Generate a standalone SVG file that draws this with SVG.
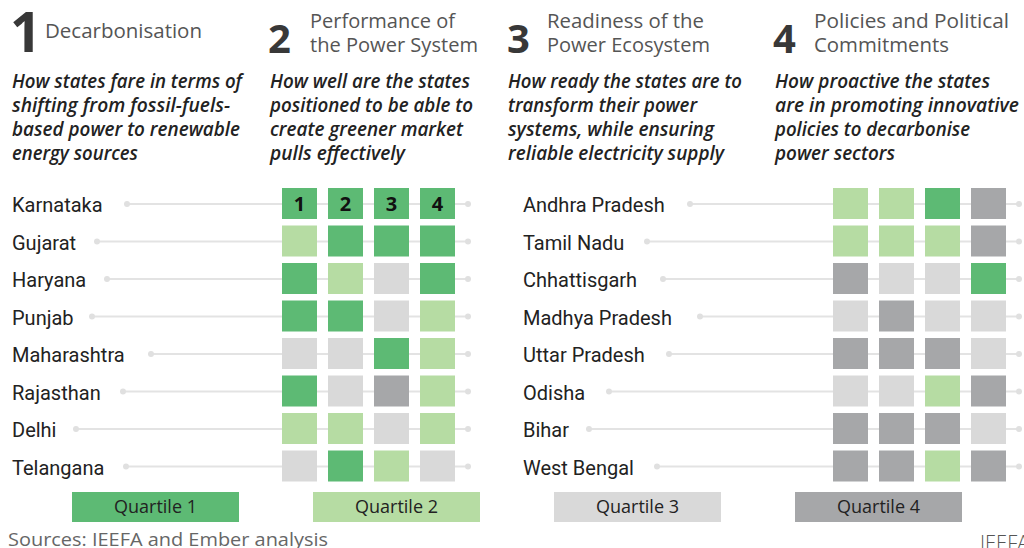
<svg xmlns="http://www.w3.org/2000/svg" width="1024" height="548" viewBox="0 0 1024 548">
<style>
.num{font-family:"Open Sans","Noto Sans",sans-serif;font-weight:700;fill:#383838}
.ttl{font-family:"Open Sans","Noto Sans",sans-serif;font-size:20px;font-weight:500;fill:#555}
.dsc{font-family:"Open Sans","Noto Sans",sans-serif;font-size:19px;font-style:italic;font-weight:600;fill:#222}
.st{font-family:Roboto,"Liberation Sans",sans-serif;font-size:20px;fill:#222}
.ln{stroke:#e3e3e3;stroke-width:2}
.dt{fill:#e0e0e0}
.q1{fill:#5dba74}.q2{fill:#b6dca3}.q3{fill:#d9d9d9}.q4{fill:#a6a7a9}
.kn{font-family:"Open Sans","Noto Sans",sans-serif;font-size:20px;font-weight:700;fill:#111;text-anchor:middle}
.lg{font-family:"Open Sans","Noto Sans",sans-serif;font-size:18px;fill:#222;text-anchor:middle}
.src{font-family:"Open Sans","Noto Sans",sans-serif;font-size:19px;fill:#666}
</style>
<rect width="1024" height="548" fill="#fff"/>
<g id="header1">
<text class="num" x="10" y="52" font-size="55">1</text>
<text class="ttl" x="45" y="38" textLength="157" lengthAdjust="spacingAndGlyphs">Decarbonisation</text>
<text class="dsc" x="12" y="88" textLength="230" lengthAdjust="spacingAndGlyphs">How states fare in terms of</text>
<text class="dsc" x="12" y="112" textLength="218" lengthAdjust="spacingAndGlyphs">shifting from fossil-fuels-</text>
<text class="dsc" x="12" y="136" textLength="228" lengthAdjust="spacingAndGlyphs">based power to renewable</text>
<text class="dsc" x="12" y="160" textLength="126" lengthAdjust="spacingAndGlyphs">energy sources</text>
</g>
<g id="header2">
<text class="num" x="268" y="53" font-size="40">2</text>
<text class="ttl" x="310" y="28" textLength="145" lengthAdjust="spacingAndGlyphs">Performance of</text>
<text class="ttl" x="310" y="52" textLength="168" lengthAdjust="spacingAndGlyphs">the Power System</text>
<text class="dsc" x="270" y="88" textLength="200" lengthAdjust="spacingAndGlyphs">How well are the states</text>
<text class="dsc" x="270" y="112" textLength="203" lengthAdjust="spacingAndGlyphs">positioned to be able to</text>
<text class="dsc" x="270" y="136" textLength="193" lengthAdjust="spacingAndGlyphs">create greener market</text>
<text class="dsc" x="270" y="160" textLength="135" lengthAdjust="spacingAndGlyphs">pulls effectively</text>
</g>
<g id="header3">
<text class="num" x="507" y="53" font-size="40">3</text>
<text class="ttl" x="547" y="28" textLength="157" lengthAdjust="spacingAndGlyphs">Readiness of the</text>
<text class="ttl" x="547" y="52" textLength="163" lengthAdjust="spacingAndGlyphs">Power Ecosystem</text>
<text class="dsc" x="508" y="88" textLength="234" lengthAdjust="spacingAndGlyphs">How ready the states are to</text>
<text class="dsc" x="508" y="112" textLength="189" lengthAdjust="spacingAndGlyphs">transform their power</text>
<text class="dsc" x="508" y="136" textLength="206" lengthAdjust="spacingAndGlyphs">systems, while ensuring</text>
<text class="dsc" x="508" y="160" textLength="216" lengthAdjust="spacingAndGlyphs">reliable electricity supply</text>
</g>
<g id="header4">
<text class="num" x="773" y="53" font-size="40">4</text>
<text class="ttl" x="814" y="28" textLength="195" lengthAdjust="spacingAndGlyphs">Policies and Political</text>
<text class="ttl" x="814" y="52" textLength="135" lengthAdjust="spacingAndGlyphs">Commitments</text>
<text class="dsc" x="775" y="88" textLength="215" lengthAdjust="spacingAndGlyphs">How proactive the states</text>
<text class="dsc" x="775" y="112" textLength="244" lengthAdjust="spacingAndGlyphs">are in promoting innovative</text>
<text class="dsc" x="775" y="136" textLength="195" lengthAdjust="spacingAndGlyphs">policies to decarbonise</text>
<text class="dsc" x="775" y="160" textLength="120" lengthAdjust="spacingAndGlyphs">power sectors</text>
</g>
<g id="connectors">
<line class="ln" x1="127" y1="204" x2="468" y2="204"/><circle class="dt" cx="127" cy="204" r="3"/><circle class="dt" cx="468" cy="204" r="3"/>
<line class="ln" x1="97" y1="241.5" x2="468" y2="241.5"/><circle class="dt" cx="97" cy="241.5" r="3"/><circle class="dt" cx="468" cy="241.5" r="3"/>
<line class="ln" x1="107" y1="279" x2="468" y2="279"/><circle class="dt" cx="107" cy="279" r="3"/><circle class="dt" cx="468" cy="279" r="3"/>
<line class="ln" x1="92" y1="316.5" x2="468" y2="316.5"/><circle class="dt" cx="92" cy="316.5" r="3"/><circle class="dt" cx="468" cy="316.5" r="3"/>
<line class="ln" x1="151" y1="354" x2="468" y2="354"/><circle class="dt" cx="151" cy="354" r="3"/><circle class="dt" cx="468" cy="354" r="3"/>
<line class="ln" x1="123" y1="391.5" x2="468" y2="391.5"/><circle class="dt" cx="123" cy="391.5" r="3"/><circle class="dt" cx="468" cy="391.5" r="3"/>
<line class="ln" x1="76" y1="429" x2="468" y2="429"/><circle class="dt" cx="76" cy="429" r="3"/><circle class="dt" cx="468" cy="429" r="3"/>
<line class="ln" x1="126" y1="466.5" x2="468" y2="466.5"/><circle class="dt" cx="126" cy="466.5" r="3"/><circle class="dt" cx="468" cy="466.5" r="3"/>
<line class="ln" x1="690" y1="204" x2="1019" y2="204"/><circle class="dt" cx="690" cy="204" r="3"/><circle class="dt" cx="1019" cy="204" r="3"/>
<line class="ln" x1="647" y1="241.5" x2="1019" y2="241.5"/><circle class="dt" cx="647" cy="241.5" r="3"/><circle class="dt" cx="1019" cy="241.5" r="3"/>
<line class="ln" x1="663" y1="279" x2="1019" y2="279"/><circle class="dt" cx="663" cy="279" r="3"/><circle class="dt" cx="1019" cy="279" r="3"/>
<line class="ln" x1="700" y1="316.5" x2="1019" y2="316.5"/><circle class="dt" cx="700" cy="316.5" r="3"/><circle class="dt" cx="1019" cy="316.5" r="3"/>
<line class="ln" x1="669" y1="354" x2="1019" y2="354"/><circle class="dt" cx="669" cy="354" r="3"/><circle class="dt" cx="1019" cy="354" r="3"/>
<line class="ln" x1="609" y1="391.5" x2="1019" y2="391.5"/><circle class="dt" cx="609" cy="391.5" r="3"/><circle class="dt" cx="1019" cy="391.5" r="3"/>
<line class="ln" x1="589" y1="429" x2="1019" y2="429"/><circle class="dt" cx="589" cy="429" r="3"/><circle class="dt" cx="1019" cy="429" r="3"/>
<line class="ln" x1="657" y1="466.5" x2="1019" y2="466.5"/><circle class="dt" cx="657" cy="466.5" r="3"/><circle class="dt" cx="1019" cy="466.5" r="3"/>
</g>
<g id="karnataka"><text class="st" x="12" y="212">Karnataka</text>
<rect class="q1" x="282" y="188" width="35" height="31"/><rect class="q1" x="328" y="188" width="35" height="31"/><rect class="q1" x="374" y="188" width="35" height="31"/><rect class="q1" x="420" y="188" width="35" height="31"/>
<text class="kn" x="299.5" y="211">1</text><text class="kn" x="345.5" y="211">2</text><text class="kn" x="391.5" y="211">3</text><text class="kn" x="437.5" y="211">4</text></g>
<g id="gujarat"><text class="st" x="12" y="249.5">Gujarat</text>
<rect class="q2" x="282" y="225.5" width="35" height="31"/><rect class="q1" x="328" y="225.5" width="35" height="31"/><rect class="q1" x="374" y="225.5" width="35" height="31"/><rect class="q1" x="420" y="225.5" width="35" height="31"/></g>
<g id="haryana"><text class="st" x="12" y="287">Haryana</text>
<rect class="q1" x="282" y="263" width="35" height="31"/><rect class="q2" x="328" y="263" width="35" height="31"/><rect class="q3" x="374" y="263" width="35" height="31"/><rect class="q1" x="420" y="263" width="35" height="31"/></g>
<g id="punjab"><text class="st" x="12" y="324.5">Punjab</text>
<rect class="q1" x="282" y="300.5" width="35" height="31"/><rect class="q1" x="328" y="300.5" width="35" height="31"/><rect class="q3" x="374" y="300.5" width="35" height="31"/><rect class="q2" x="420" y="300.5" width="35" height="31"/></g>
<g id="maharashtra"><text class="st" x="12" y="362">Maharashtra</text>
<rect class="q3" x="282" y="338" width="35" height="31"/><rect class="q3" x="328" y="338" width="35" height="31"/><rect class="q1" x="374" y="338" width="35" height="31"/><rect class="q2" x="420" y="338" width="35" height="31"/></g>
<g id="rajasthan"><text class="st" x="12" y="399.5">Rajasthan</text>
<rect class="q1" x="282" y="375.5" width="35" height="31"/><rect class="q3" x="328" y="375.5" width="35" height="31"/><rect class="q4" x="374" y="375.5" width="35" height="31"/><rect class="q2" x="420" y="375.5" width="35" height="31"/></g>
<g id="delhi"><text class="st" x="12" y="437">Delhi</text>
<rect class="q2" x="282" y="413" width="35" height="31"/><rect class="q2" x="328" y="413" width="35" height="31"/><rect class="q3" x="374" y="413" width="35" height="31"/><rect class="q2" x="420" y="413" width="35" height="31"/></g>
<g id="telangana"><text class="st" x="12" y="474.5">Telangana</text>
<rect class="q3" x="282" y="450.5" width="35" height="31"/><rect class="q1" x="328" y="450.5" width="35" height="31"/><rect class="q2" x="374" y="450.5" width="35" height="31"/><rect class="q3" x="420" y="450.5" width="35" height="31"/></g>
<g id="andhra-pradesh"><text class="st" x="523" y="212">Andhra Pradesh</text>
<rect class="q2" x="833" y="188" width="35" height="31"/><rect class="q2" x="879" y="188" width="35" height="31"/><rect class="q1" x="925" y="188" width="35" height="31"/><rect class="q4" x="971" y="188" width="35" height="31"/></g>
<g id="tamil-nadu"><text class="st" x="523" y="249.5">Tamil Nadu</text>
<rect class="q2" x="833" y="225.5" width="35" height="31"/><rect class="q2" x="879" y="225.5" width="35" height="31"/><rect class="q2" x="925" y="225.5" width="35" height="31"/><rect class="q4" x="971" y="225.5" width="35" height="31"/></g>
<g id="chhattisgarh"><text class="st" x="523" y="287">Chhattisgarh</text>
<rect class="q4" x="833" y="263" width="35" height="31"/><rect class="q3" x="879" y="263" width="35" height="31"/><rect class="q3" x="925" y="263" width="35" height="31"/><rect class="q1" x="971" y="263" width="35" height="31"/></g>
<g id="madhya-pradesh"><text class="st" x="523" y="324.5">Madhya Pradesh</text>
<rect class="q3" x="833" y="300.5" width="35" height="31"/><rect class="q4" x="879" y="300.5" width="35" height="31"/><rect class="q3" x="925" y="300.5" width="35" height="31"/><rect class="q3" x="971" y="300.5" width="35" height="31"/></g>
<g id="uttar-pradesh"><text class="st" x="523" y="362">Uttar Pradesh</text>
<rect class="q4" x="833" y="338" width="35" height="31"/><rect class="q4" x="879" y="338" width="35" height="31"/><rect class="q4" x="925" y="338" width="35" height="31"/><rect class="q3" x="971" y="338" width="35" height="31"/></g>
<g id="odisha"><text class="st" x="523" y="399.5">Odisha</text>
<rect class="q3" x="833" y="375.5" width="35" height="31"/><rect class="q3" x="879" y="375.5" width="35" height="31"/><rect class="q2" x="925" y="375.5" width="35" height="31"/><rect class="q4" x="971" y="375.5" width="35" height="31"/></g>
<g id="bihar"><text class="st" x="523" y="437">Bihar</text>
<rect class="q4" x="833" y="413" width="35" height="31"/><rect class="q4" x="879" y="413" width="35" height="31"/><rect class="q4" x="925" y="413" width="35" height="31"/><rect class="q3" x="971" y="413" width="35" height="31"/></g>
<g id="west-bengal"><text class="st" x="523" y="474.5">West Bengal</text>
<rect class="q4" x="833" y="450.5" width="35" height="31"/><rect class="q4" x="879" y="450.5" width="35" height="31"/><rect class="q2" x="925" y="450.5" width="35" height="31"/><rect class="q4" x="971" y="450.5" width="35" height="31"/></g>
<g id="legend">
<rect class="q1" x="72" y="492" width="167" height="30"/><text class="lg" x="155.5" y="513">Quartile 1</text>
<rect class="q2" x="313" y="492" width="167" height="30"/><text class="lg" x="396.5" y="513">Quartile 2</text>
<rect class="q3" x="554" y="492" width="167" height="30"/><text class="lg" x="637.5" y="513">Quartile 3</text>
<rect class="q4" x="795" y="492" width="167" height="30"/><text class="lg" x="878.5" y="513">Quartile 4</text>
</g>
<g id="footer">
<text class="src" x="8" y="546" textLength="320" lengthAdjust="spacingAndGlyphs">Sources: IEEFA and Ember analysis</text>
<text x="980" y="550" font-family="'Open Sans','Noto Sans',sans-serif" font-size="20" font-weight="300" fill="#555">IEEFA</text>
</g>
</svg>
